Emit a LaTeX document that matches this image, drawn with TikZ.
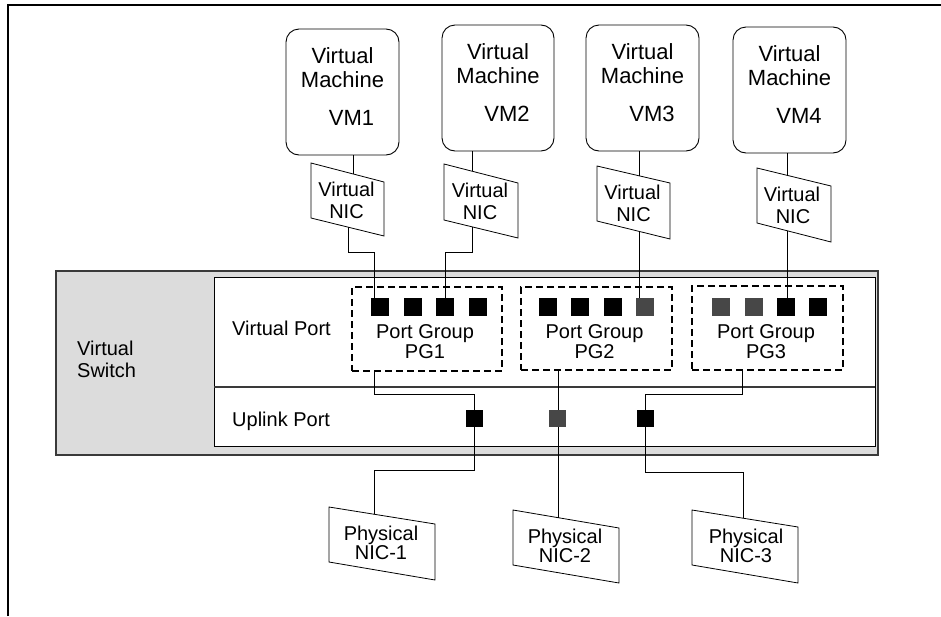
\documentclass[tikz,border=0pt]{standalone}
\usepackage{fontspec}
\setmainfont{Liberation Sans}
\definecolor{portgray}{HTML}{474747}
\definecolor{swfill}{HTML}{DCDCDC}
\definecolor{swline}{HTML}{3A3A3A}
\begin{document}
\begin{tikzpicture}[x=1pt,y=-1pt,
  frame/.style={line width=1.6pt},
  vmbox/.style={draw, rounded corners=13pt, line width=0.9pt, inner sep=0},
  vt/.style={font=\fontsize{22}{23}\selectfont, anchor=base, inner sep=0},
  tt/.style={font=\fontsize{20}{20}\selectfont, anchor=base, inner sep=0},
  tl/.style={tt, anchor=base west},
  nicline/.style={draw, line width=0.8pt},
  conn/.style={line width=0.8pt},
  port/.style={fill=black, minimum size=18pt, inner sep=0},
  gport/.style={port, fill=portgray},
  uport/.style={port, minimum size=17pt},
  guport/.style={uport, fill=portgray},
  pgbox/.style={draw, dash pattern=on 7pt off 4pt, line width=2pt, inner sep=0},
]
\useasboundingbox (0,0) rectangle (941,616);
\fill[white] (0,0) rectangle (941,616);
% outer frame (top and left edges visible)
\draw[frame] (8,616) -- (8,5) -- (941,5);

% ---------- Virtual machines ----------
\node[vmbox, minimum width=113pt, minimum height=126pt] (vm1) at (342.5,92) {};
\node[vmbox, minimum width=112pt, minimum height=126pt] (vm2) at (498,88) {};
\node[vmbox, minimum width=113pt, minimum height=126pt] (vm3) at (642.5,88) {};
\node[vmbox, minimum width=113pt, minimum height=126pt] (vm4) at (789.5,90) {};

\node[vt] (vm1a) at (342.5,63) {Virtual};
\node[vt] (vm1b) at (342.5,87) {Machine};
\node[vt] (vm1c) at (351.5,125) {VM1};
\node[vt] (vm2a) at (498,59) {Virtual};
\node[vt] (vm2b) at (498,83) {Machine};
\node[vt] (vm2c) at (507,121) {VM2};
\node[vt] (vm3a) at (642.5,59) {Virtual};
\node[vt] (vm3b) at (642.5,83) {Machine};
\node[vt] (vm3c) at (652,121) {VM3};
\node[vt] (vm4a) at (789.5,61) {Virtual};
\node[vt] (vm4b) at (789.5,85) {Machine};
\node[vt] (vm4c) at (799,123) {VM4};

% ---------- Virtual NICs ----------
\path[nicline] (311,163) -- (384,182) -- (384,236) -- (311,218) -- cycle;
\path[nicline] (444,164) -- (518,183) -- (518,238) -- (444,220) -- cycle;
\path[nicline] (597,166) -- (670,183) -- (670,239) -- (597,221) -- cycle;
\path[nicline] (757,168) -- (831,186) -- (831,242) -- (757,223) -- cycle;

\node[tt] (n1a) at (346.5,196.5) {Virtual};
\node[tt] (n1b) at (346.5,218) {NIC};
\node[tt] (n2a) at (480,197.5) {Virtual};
\node[tt] (n2b) at (480,219) {NIC};
\node[tt] (n3a) at (632.5,199.5) {Virtual};
\node[tt] (n3b) at (633.5,221) {NIC};
\node[tt] (n4a) at (792,201.5) {Virtual};
\node[tt] (n4b) at (793,223) {NIC};

\coordinate (n1t) at (353,174);
\coordinate (n2t) at (472,171);
\coordinate (n3t) at (639,175.8);
\coordinate (n4t) at (787,175.3);
\coordinate (n1d) at (348,227.1);
\coordinate (n2d) at (472,226.8);
\coordinate (n3d) at (639,231.4);
\coordinate (n4d) at (787,230.7);

% ---------- Virtual switch ----------
\draw[fill=swfill, draw=swline, line width=1.4pt] (56,271) rectangle (878,455);
\draw[fill=white, draw=black, line width=0.9pt] (214,277) rectangle (875,446);
\draw[draw=swline, line width=2pt] (214,387) -- (875,387);

\node[tl] (vs1) at (77,355) {Virtual};
\node[tl] (vs2) at (77,377) {Switch};
\node[tl] (vport) at (232,335) {Virtual Port};
\node[tl] (uport) at (232,426) {Uplink Port};

% port groups
\node[pgbox, minimum width=150pt, minimum height=84pt] (pg1) at (427,329) {};
\node[pgbox, minimum width=151pt, minimum height=83pt] (pg2) at (596.5,328.5) {};
\node[pgbox, minimum width=151pt, minimum height=84pt] (pg3) at (767.5,328) {};

\node[tt] (pg1a) at (425,338) {Port Group};
\node[tt] (pg1b) at (425,358) {PG1};
\node[tt] (pg2a) at (594.5,338) {Port Group};
\node[tt] (pg2b) at (594.5,358) {PG2};
\node[tt] (pg3a) at (766,338) {Port Group};
\node[tt] (pg3b) at (766,358) {PG3};

% virtual ports
\node[port]  (p11) at (380,307) {};
\node[port]  (p12) at (412.5,307) {};
\node[port]  (p13) at (445,307) {};
\node[port]  (p14) at (477.5,307) {};
\node[port]  (p21) at (547.5,307) {};
\node[port]  (p22) at (580,307) {};
\node[port]  (p23) at (612.5,307) {};
\node[gport] (p24) at (645,307) {};
\node[gport] (p31) at (721,307) {};
\node[gport] (p32) at (753.5,307) {};
\node[port]  (p33) at (786,307) {};
\node[port]  (p34) at (818,307) {};

% uplink ports
\node[uport]  (u1) at (474.5,418.5) {};
\node[guport] (u2) at (557,418.5) {};
\node[uport]  (u3) at (645.5,418.5) {};

% ---------- Physical NICs ----------
\path[nicline] (329,507) -- (435,524) -- (435,580) -- (329,562) -- cycle;
\path[nicline] (513,510) -- (619,528) -- (619,583) -- (513,565) -- cycle;
\path[nicline] (692,510) -- (798,527) -- (798,583) -- (692,565) -- cycle;

\node[tt] (ph1a) at (381,540) {Physical};
\node[tt] (ph1b) at (381,559) {NIC-1};
\node[tt] (ph2a) at (565,543) {Physical};
\node[tt] (ph2b) at (565,562) {NIC-2};
\node[tt] (ph3a) at (746,543) {Physical};
\node[tt] (ph3b) at (746,562) {NIC-3};

\coordinate (ph1t) at (374,514.4);
\coordinate (ph2t) at (558,517.7);
\coordinate (ph3t) at (743,518.4);

% ---------- Connectors ----------
% VM to virtual NIC
\draw[conn] (vm1.south -| n1t) -- (n1t);
\draw[conn] (vm2.south -| n2t) -- (n2t);
\draw[conn] (vm3.south -| n3t) -- (n3t);
\draw[conn] (vm4.south -| n4t) -- (n4t);
% virtual NIC to virtual port
\coordinate (j1) at (374,252);
\coordinate (j2) at (445,252);
\draw[conn] (n1d) |- (j1) -- (j1 |- p11.north);
\draw[conn] (n2d) |- (j2) -- (j2 |- p13.north);
\draw[conn] (n3d) -- (n3d |- p24.north);
\draw[conn] (n4d) -- (n4d |- p33.north);
% port group to uplink
\coordinate (k1) at (374,394);
\coordinate (k3) at (742,394);
\draw[conn] (k1 |- pg1.south) -- (k1) -| (u1.north);
\draw[conn] (ph2t |- pg2.south) -- (ph2t |- u2.north);
\draw[conn] (k3 |- pg3.south) -- (k3) -| (u3.north);
% uplink to physical NIC
\coordinate (m1) at (374,470);
\coordinate (m3) at (743,472);
\draw[conn] (u1.south) |- (m1) -- (ph1t);
\draw[conn] (ph2t |- u2.south) -- (ph2t);
\draw[conn] (u3.south) |- (m3) -- (ph3t);
\end{tikzpicture}
\end{document}
